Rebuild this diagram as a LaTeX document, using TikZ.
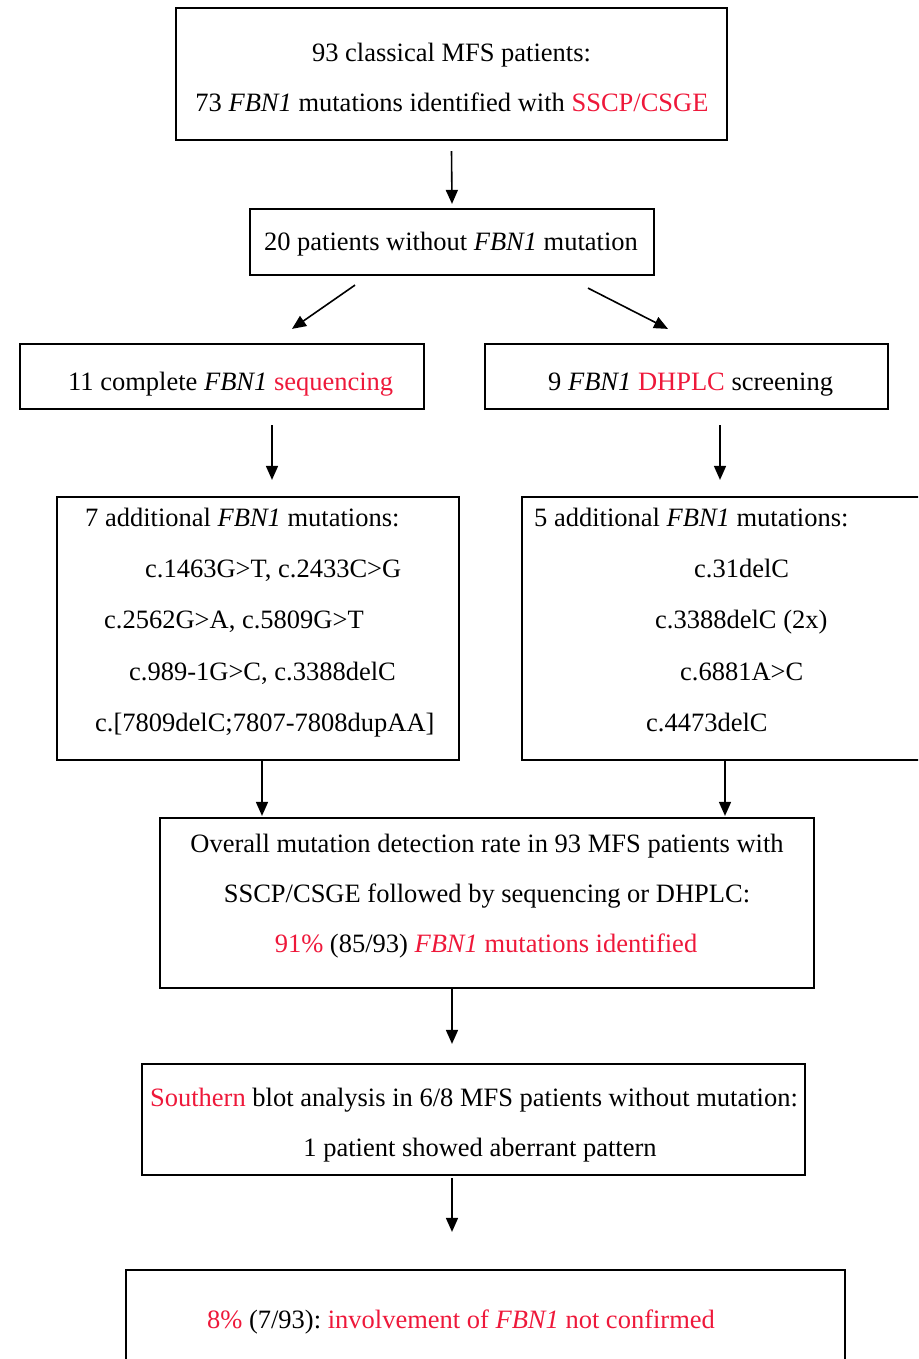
\documentclass[tikz,border=0pt]{standalone}
\usepackage{fontspec}
\setmainfont{Liberation Serif}
\usetikzlibrary{arrows.meta}
\definecolor{hl}{RGB}{238,24,58}
\frenchspacing
\begin{document}
\begin{tikzpicture}[x=1pt,y=-1pt,
  box/.style={draw=black,line width=2.2pt,minimum width=#1,inner sep=0pt},
  arr/.style={line width=1.6pt,-{Triangle[width=12pt,length=14pt]}},
  txt/.style={inner sep=0pt,anchor=base,font=\fontsize{26.5}{30}\selectfont},
  ltxt/.style={txt,anchor=base west}]
\useasboundingbox (0,0) rectangle (918,1359);
\clip (0,0) rectangle (918,1359);
% boxes
\node[box=551pt,minimum height=132pt] (b1) at (451.5,74) {};
\node[box=404pt,minimum height=66pt] (b2) at (452,242) {};
\node[box=404pt,minimum height=65pt] (b3l) at (222,376.5) {};
\node[box=403pt,minimum height=65pt] (b3r) at (686.5,376.5) {};
\node[box=402pt,minimum height=263pt] (b4l) at (258,628.5) {};
\node[box=418pt,minimum height=263pt] (b4r) at (731,628.5) {};
\node[box=654pt,minimum height=170pt] (b5) at (487,903) {};
\node[box=663pt,minimum height=111pt] (b6) at (473.5,1119.5) {};
\node[box=719pt,minimum height=130pt] (b7) at (485.5,1335) {};
% texts
\node[txt] (t1a) at (451.5,62) {93 classical MFS patients:};
\node[txt] (t1b) at (452,112) {73 \textit{FBN1} mutations identified with \textcolor{hl}{SSCP/CSGE}};
\node[txt] (t2) at (451,250) {20 patients without \textit{FBN1} mutation};
\node[ltxt] (t3l) at (68,390) {11 complete \textit{FBN1} \textcolor{hl}{sequencing}};
\node[ltxt] (t3r) at (548,390) {9 \textit{FBN1} \textcolor{hl}{DHPLC} screening};
\node[ltxt] (t4la) at (85,526) {7 additional \textit{FBN1} mutations:};
\node[ltxt] (t4lb) at (145,577) {c.1463G>T, c.2433C>G};
\node[ltxt] (t4lc) at (104,628) {c.2562G>A, c.5809G>T};
\node[ltxt] (t4ld) at (129,680) {c.989-1G>C, c.3388delC};
\node[ltxt] (t4le) at (95,731) {c.[7809delC;7807-7808dupAA]};
\node[ltxt] (t4ra) at (534,526) {5 additional \textit{FBN1} mutations:};
\node[ltxt] (t4rb) at (694,577) {c.31delC};
\node[ltxt] (t4rc) at (655,628) {c.3388delC (2x)};
\node[ltxt] (t4rd) at (680,680) {c.6881A>C};
\node[ltxt] (t4re) at (646,731) {c.4473delC};
\node[txt] (t5a) at (487,852) {Overall mutation detection rate in 93 MFS patients with};
\node[txt] (t5b) at (487,902) {SSCP/CSGE followed by sequencing or DHPLC:};
\node[txt] (t5c) at (486,952) {\textcolor{hl}{91\%} (85/93) \textcolor{hl}{\textit{FBN1} mutations identified}};
\node[txt] (t6a) at (474,1106) {\textcolor{hl}{Southern} blot analysis in 6/8 MFS patients without mutation:};
\node[txt] (t6b) at (480,1156) {1 patient showed aberrant pattern};
\node[txt] (t7) at (461,1328) {\textcolor{hl}{8\%} (7/93): \textcolor{hl}{involvement of \textit{FBN1} not confirmed}};
% arrows
\draw[arr] ([yshift=-10pt]b1.south) -- ([yshift=4pt]b2.north);
\draw[arr] ([xshift=-97pt,yshift=-9pt]b2.south) -- ([xshift=70pt,yshift=14pt]b3l.north);
\draw[arr] ([xshift=136pt,yshift=-12pt]b2.south) -- ([xshift=-18.5pt,yshift=14pt]b3r.north);
\draw[arr] ([xshift=50pt,yshift=-15pt]b3l.south) -- ([xshift=14pt,yshift=16pt]b4l.north);
\draw[arr] ([xshift=33.5pt,yshift=-15pt]b3r.south) -- ([xshift=-11pt,yshift=16pt]b4r.north);
\draw[arr] ([xshift=4pt]b4l.south) -- ([xshift=-225pt,yshift=1pt]b5.north);
\draw[arr] ([xshift=-6pt]b4r.south) -- ([xshift=238pt,yshift=1pt]b5.north);
\draw[arr] ([xshift=-35pt]b5.south) -- ([xshift=-21.5pt,yshift=19pt]b6.north);
\draw[arr] ([xshift=-21.5pt,yshift=-2pt]b6.south) -- ([xshift=-33.5pt,yshift=37pt]b7.north);
\end{tikzpicture}
\end{document}
